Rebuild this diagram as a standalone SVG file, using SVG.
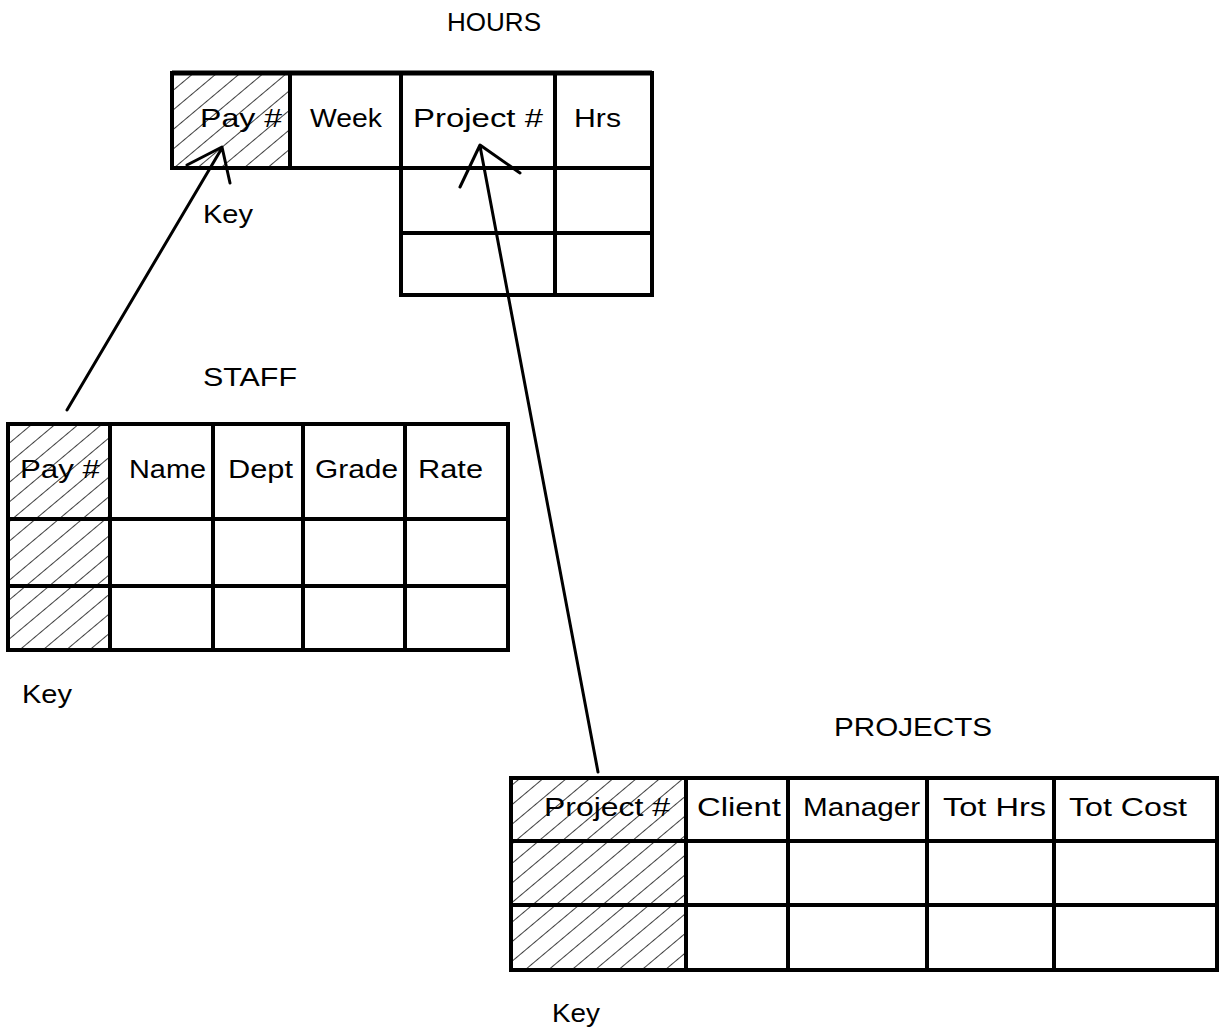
<svg xmlns="http://www.w3.org/2000/svg" width="1219" height="1030" viewBox="0 0 1219 1030">
<style>
text{font-family:"Liberation Sans",Arial,sans-serif;font-size:25px;fill:#000}
.g{fill:none;stroke:#000;stroke-width:4;stroke-linecap:square}
.c{fill:none;stroke:#000;stroke-width:3;stroke-linecap:round;stroke-linejoin:round}
</style>
<defs>
<pattern id="hatch" patternUnits="userSpaceOnUse" width="15" height="15" patternTransform="rotate(50)">
<line x1="0" y1="0" x2="0" y2="15" stroke="#000" stroke-width="1.5"/>
</pattern>
</defs>
<rect width="1219" height="1030" fill="#fff"/>
<g id="hours">
<text x="447" y="31" textLength="94" lengthAdjust="spacingAndGlyphs">HOURS</text>
<rect x="172" y="73" width="118" height="95" fill="url(#hatch)"/>
<path class="g" d="M172 73H652M172 73V168M290 73V168M401 73V295M555 73V295M652 73V295M172 168H652M401 233H652M401 295H652"/>
<line x1="172" y1="73" x2="652" y2="73" stroke="#000" stroke-width="5"/>
<text x="200" y="127" textLength="82" lengthAdjust="spacingAndGlyphs">Pay #</text>
<text x="310" y="127" textLength="72" lengthAdjust="spacingAndGlyphs">Week</text>
<text x="413" y="127" textLength="130" lengthAdjust="spacingAndGlyphs">Project #</text>
<text x="574" y="127" textLength="47" lengthAdjust="spacingAndGlyphs">Hrs</text>
<text x="203" y="223" textLength="50" lengthAdjust="spacingAndGlyphs">Key</text>
</g>
<g id="staff">
<text x="203" y="386" textLength="94" lengthAdjust="spacingAndGlyphs">STAFF</text>
<rect x="8" y="424" width="102" height="226" fill="url(#hatch)"/>
<path class="g" d="M8 424H508V650H8ZM110 424V650M213 424V650M303 424V650M405 424V650M8 519H508M8 586H508"/>
<text x="20" y="478" textLength="80" lengthAdjust="spacingAndGlyphs">Pay #</text>
<text x="129" y="478" textLength="77" lengthAdjust="spacingAndGlyphs">Name</text>
<text x="228" y="478" textLength="65" lengthAdjust="spacingAndGlyphs">Dept</text>
<text x="315" y="478" textLength="83" lengthAdjust="spacingAndGlyphs">Grade</text>
<text x="418" y="478" textLength="65" lengthAdjust="spacingAndGlyphs">Rate</text>
<text x="22" y="703" textLength="50" lengthAdjust="spacingAndGlyphs">Key</text>
</g>
<g id="projects">
<text x="834" y="736" textLength="158" lengthAdjust="spacingAndGlyphs">PROJECTS</text>
<rect x="511" y="778" width="175" height="192" fill="url(#hatch)"/>
<path class="g" d="M511 778H1217V970H511ZM686 778V970M788 778V970M927 778V970M1054 778V970M511 841H1217M511 905H1217"/>
<text x="544" y="816" textLength="126" lengthAdjust="spacingAndGlyphs">Project #</text>
<text x="697" y="816" textLength="84" lengthAdjust="spacingAndGlyphs">Client</text>
<text x="803" y="816" textLength="117" lengthAdjust="spacingAndGlyphs">Manager</text>
<text x="943" y="816" textLength="103" lengthAdjust="spacingAndGlyphs">Tot Hrs</text>
<text x="1069" y="816" textLength="118" lengthAdjust="spacingAndGlyphs">Tot Cost</text>
<text x="552" y="1022" textLength="48" lengthAdjust="spacingAndGlyphs">Key</text>
</g>
<g id="connectors">
<path class="c" d="M67 410L222 148M187 165L222 147L230 183"/>
<path class="c" d="M598 772L480 146M460 187L480 145L520 173"/>
</g>
</svg>
